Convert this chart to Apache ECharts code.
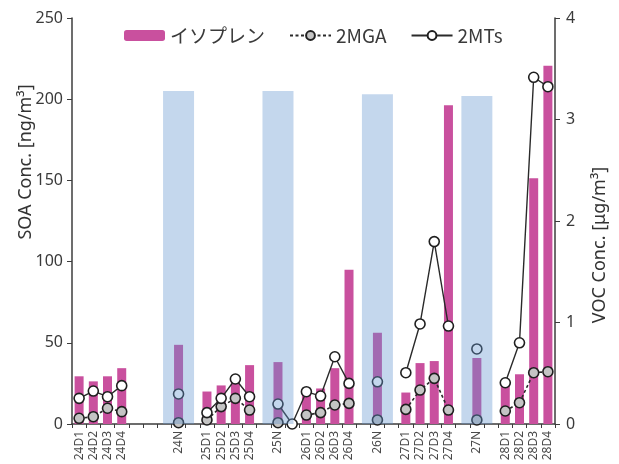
<!DOCTYPE html>
<html>
<head>
<meta charset="utf-8">
<script src="https://cdn.jsdelivr.net/npm/echarts@6/dist/echarts.min.js"></script>
<style>
  html, body { margin: 0; padding: 0; background: #fff; }
  #chart { width: 619px; height: 464px; }
</style>
</head>
<body>
<div id="chart"></div>
<script>
// Sampling periods: D1–D4 daytime samples, N night sample; '' are spacer slots
const categories = [
  '24D1', '24D2', '24D3', '24D4', '', '', '', '24N', '',
  '25D1', '25D2', '25D3', '25D4', '', '25N', '',
  '26D1', '26D2', '26D3', '26D4', '', '26N', '',
  '27D1', '27D2', '27D3', '27D4', '', '27N', '',
  '28D1', '28D2', '28D3', '28D4'
];

// Isoprene (VOC, µg/m³, right axis)
const isoprene = [
  0.47, 0.42, 0.47, 0.55, null, null, null, 0.78, null,
  0.32, 0.38, 0.46, 0.58, null, 0.61, null,
  0.30, 0.35, 0.55, 1.52, null, 0.90, null,
  0.31, 0.60, 0.62, 3.14, null, 0.65, null,
  0.40, 0.49, 2.42, 3.53
];

// 2-methylglyceric acid (SOA, ng/m³, left axis)
const mga = [
  3.5, 4.5, 9.7, 7.6, null, null, null, 0.8, null,
  2.5, 10.7, 15.8, 8.6, null, 0.8, null,
  5.5, 7.0, 11.7, 12.7, null, 2.5, null,
  9.0, 20.9, 28.1, 8.6, null, 2.5, null,
  8.0, 13.1, 31.6, 32.2
];

// 2-methyltetrols (SOA, ng/m³, left axis)
const mts = [
  15.8, 20.3, 16.8, 23.6, null, null, null, 18.5, null,
  7.0, 15.8, 27.7, 16.8, null, 12.3, 0,
  19.9, 17.2, 41.4, 25.0, null, 26.0, null,
  31.6, 61.6, 112.3, 60.3, null, 46.2, null,
  25.4, 50.0, 213.5, 207.7
];

// Night-time shading heights (left axis)
const nightBand = [
  null, null, null, null, null, null, null, 205, null,
  null, null, null, null, null, 205, null,
  null, null, null, null, null, 203, null,
  null, null, null, null, null, 202, null,
  null, null, null, null
];

const leftTicks = [0, 50, 100, 150, 200, 250];
const rightTicks = [0, 1, 2, 3, 4];

const axisColor = '#3c3c3c';
const labelColor = '#3a3a3a';
const font = "'Noto Sans', 'Noto Sans CJK JP', sans-serif";

const chart = echarts.init(document.getElementById('chart'), null, { renderer: 'canvas' });

const catAxisBase = {
  type: 'category',
  data: categories,
  boundaryGap: true
};

chart.setOption({
  animation: false,
  backgroundColor: '#ffffff',
  grid: { left: 72, right: 64, top: 18, bottom: 40, containLabel: false },
  legend: {
    data: ['イソプレン', '2MGA', '2MTs'],
    left: 119,
    top: 21,
    itemGap: 24,
    itemWidth: 41,
    itemHeight: 11,
    textStyle: { fontSize: 19, color: '#3a3a3a', fontFamily: "'Noto Sans CJK JP', sans-serif" }
  },
  xAxis: [
    Object.assign({}, catAxisBase, {
      axisLine: { show: true, lineStyle: { color: axisColor, width: 1.5 } },
      axisTick: { show: true, interval: 0, length: 4, inside: false, lineStyle: { color: axisColor, width: 1 } },
      axisLabel: {
        interval: 0, rotate: 90, margin: 7,
        fontSize: 12, color: '#4a4a4a', fontFamily: font
      },
      splitLine: { show: false }
    }),
    Object.assign({}, catAxisBase, {
      show: false,
      position: 'bottom'
    })
  ],
  yAxis: [
    {
      type: 'value', min: 0, max: 250, interval: 50,
      position: 'left',
      axisLine: { show: true, lineStyle: { color: axisColor, width: 1.5 } },
      axisTick: { show: true, length: 5, lineStyle: { color: axisColor } },
      axisLabel: {
        margin: 9, fontSize: 16, color: labelColor, fontFamily: font,
        formatter: v => leftTicks.includes(v) ? String(v) : ''
      },
      splitLine: { show: false }
    },
    {
      type: 'value', min: 0, max: 4, interval: 1,
      position: 'right',
      axisLine: { show: true, lineStyle: { color: axisColor, width: 1.5 } },
      axisTick: { show: true, length: 5, lineStyle: { color: axisColor } },
      axisLabel: {
        margin: 11, fontSize: 16, color: labelColor, fontFamily: font,
        formatter: v => rightTicks.includes(v) ? String(v) : ''
      },
      splitLine: { show: false }
    }
  ],
  graphic: [
    {
      type: 'text',
      x: 26, y: 162, rotation: Math.PI / 2,
      style: {
        text: 'SOA Conc. [ng/m³]',
        fontSize: 18, fill: '#333', fontFamily: font,
        align: 'center', verticalAlign: 'middle'
      }
    },
    {
      type: 'text',
      x: 600, y: 245, rotation: Math.PI / 2,
      style: {
        text: 'VOC Conc. [μg/m³]',
        fontSize: 18, fill: '#333', fontFamily: font,
        align: 'center', verticalAlign: 'middle'
      }
    }
  ],
  series: [
    {
      name: 'イソプレン',
      type: 'bar',
      xAxisIndex: 0, yAxisIndex: 1,
      data: isoprene,
      barWidth: 9,
      itemStyle: { color: '#c9509e' },
      z: 2
    },
    {
      name: '2MGA',
      type: 'line',
      xAxisIndex: 0, yAxisIndex: 0,
      data: mga,
      connectNulls: false,
      symbol: 'circle', symbolSize: 10, showSymbol: true,
      lineStyle: { color: '#2a2a2a', width: 1.6, type: [3, 2.5] },
      itemStyle: { color: '#c4c4c4', borderColor: '#1f1f1f', borderWidth: 1.6 },
      z: 3
    },
    {
      name: '2MTs',
      type: 'line',
      xAxisIndex: 0, yAxisIndex: 0,
      data: mts,
      connectNulls: false,
      symbol: 'circle', symbolSize: 10, showSymbol: true,
      lineStyle: { color: '#2a2a2a', width: 1.4 },
      itemStyle: { color: '#ffffff', borderColor: '#1f1f1f', borderWidth: 1.6 },
      z: 4
    },
    {
      name: 'night',
      type: 'bar',
      xAxisIndex: 1, yAxisIndex: 0,
      data: nightBand,
      barWidth: 31,
      itemStyle: { color: 'rgba(100, 150, 208, 0.38)' },
      silent: true,
      z: 6
    }
  ]
});
</script>
</body>
</html>
